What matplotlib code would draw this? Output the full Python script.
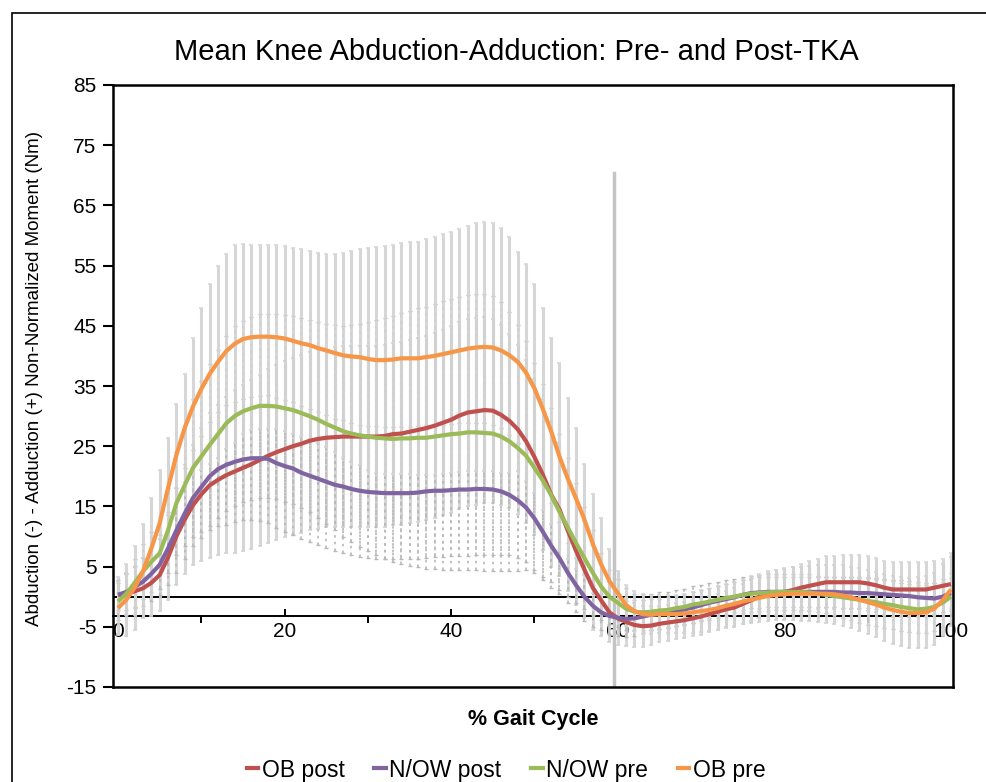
#!/usr/bin/env python3
"""Mean knee abduction-adduction moment, pre- and post-TKA (Excel-style chart)."""
import matplotlib
matplotlib.use("Agg")
import matplotlib.pyplot as plt
from matplotlib.patches import Rectangle
from matplotlib.lines import Line2D

plt.rcParams["font.family"] = ["Liberation Sans", "DejaVu Sans"]
plt.rcParams["axes.unicode_minus"] = False

# ── data ─────────────────────────────────────────────────────────────────────
GAIT = list(range(0, 101))          # % gait cycle
TOE_OFF = 59.5
TOE_OFF_TOP = 70.4

OB_POST = [
    0.3, 0.5, 0.9, 1.4, 2.3, 3.6, 6.5, 10.0, 12.8, 15.2,
    17.0, 18.5, 19.4, 20.2, 20.8, 21.4, 22.0, 22.7, 23.4, 24.0,
    24.5, 25.0, 25.4, 25.9, 26.2, 26.4, 26.5, 26.6, 26.6, 26.6,
    26.6, 26.6, 26.7, 27.0, 27.1, 27.4, 27.7, 28.0, 28.4, 28.9,
    29.4, 30.1, 30.6, 30.8, 31.0, 30.9, 30.2, 29.2, 27.8, 25.8,
    23.2, 20.3, 17.0, 14.5, 11.0, 7.6, 4.5, 1.5, -0.6, -2.6,
    -3.6, -4.2, -4.7, -4.9, -4.8, -4.5, -4.3, -4.1, -3.9, -3.6,
    -3.3, -2.9, -2.5, -2.1, -1.8, -1.2, -0.6, 0.0, 0.4, 0.7,
    0.8, 1.1, 1.5, 1.8, 2.1, 2.4, 2.4, 2.4, 2.4, 2.4,
    2.2, 1.9, 1.5, 1.2, 1.2, 1.2, 1.2, 1.2, 1.5, 1.8,
    2.1,
]
NOW_POST = [
    0.3, 0.8, 1.6, 2.5, 3.8, 5.3, 8.0, 11.0, 13.8, 16.4,
    18.2, 20.0, 21.2, 21.9, 22.4, 22.8, 23.0, 23.0, 22.9, 22.2,
    21.7, 21.3, 20.6, 20.1, 19.6, 19.1, 18.6, 18.3, 17.9, 17.6,
    17.4, 17.3, 17.2, 17.2, 17.2, 17.2, 17.3, 17.5, 17.6, 17.6,
    17.7, 17.8, 17.8, 17.9, 17.9, 17.8, 17.5, 16.9, 16.0, 14.8,
    13.0, 10.8, 8.5, 6.4, 4.0, 1.9, 0.0, -1.5, -2.6, -3.2,
    -3.5, -3.7, -3.6, -3.3, -3.0, -2.8, -2.6, -2.4, -2.1, -1.8,
    -1.4, -1.0, -0.7, -0.4, -0.1, 0.3, 0.6, 0.7, 0.8, 0.8,
    0.8, 0.8, 0.8, 0.8, 0.8, 0.8, 0.8, 0.7, 0.7, 0.6,
    0.6, 0.5, 0.4, 0.3, 0.2, 0.1, -0.1, -0.2, -0.3, 0.0,
    0.6,
]
NOW_PRE = [
    -0.8, 0.5, 2.3, 4.2, 5.8, 7.2, 11.0, 15.5, 18.5, 21.4,
    23.3, 25.2, 27.0, 28.8, 30.0, 30.8, 31.3, 31.7, 31.7, 31.6,
    31.3, 31.0, 30.5, 30.0, 29.4, 28.7, 28.1, 27.5, 27.1, 26.8,
    26.6, 26.4, 26.3, 26.2, 26.3, 26.3, 26.4, 26.4, 26.6, 26.8,
    27.0, 27.1, 27.3, 27.3, 27.2, 27.1, 26.6, 25.8, 24.7, 23.4,
    21.4, 19.3, 16.9, 14.1, 11.5, 8.9, 6.4, 4.0, 1.7, 0.0,
    -1.0, -2.0, -2.5, -2.6, -2.5, -2.3, -2.2, -1.9, -1.7, -1.3,
    -1.1, -0.8, -0.5, -0.2, 0.0, 0.3, 0.5, 0.6, 0.7, 0.8,
    0.8, 0.8, 0.8, 0.7, 0.5, 0.3, 0.1, -0.1, -0.3, -0.5,
    -0.7, -0.9, -1.2, -1.4, -1.7, -1.9, -2.1, -2.0, -1.7, -1.0,
    0.0,
]
OB_PRE = [
    -1.9, -0.5, 1.5, 4.2, 8.0, 12.2, 18.0, 23.5, 28.0, 31.6,
    34.5, 37.0, 39.0, 40.8, 42.0, 42.8, 43.1, 43.2, 43.2, 43.1,
    42.9, 42.5, 42.1, 41.8, 41.3, 40.9, 40.5, 40.1, 39.9, 39.8,
    39.5, 39.3, 39.3, 39.4, 39.6, 39.6, 39.6, 39.8, 40.0, 40.3,
    40.6, 40.9, 41.2, 41.4, 41.5, 41.4, 40.9, 40.1, 39.0, 37.2,
    34.6, 31.2, 27.5, 23.3, 19.6, 16.3, 12.8, 8.8, 5.4, 2.6,
    0.6, -1.4, -2.4, -2.9, -3.0, -2.9, -2.9, -2.9, -2.8, -2.6,
    -2.4, -2.2, -1.9, -1.5, -1.2, -0.8, -0.5, -0.2, 0.1, 0.3,
    0.4, 0.5, 0.5, 0.5, 0.5, 0.5, 0.4, 0.2, -0.1, -0.5,
    -0.9, -1.3, -1.8, -2.2, -2.5, -2.7, -2.7, -2.6, -2.0, -0.6,
    1.2,
]

# standard deviations (error bars)
OB_PRE_SD = [
    4.5, 6.0, 7.0, 7.8, 8.4, 8.8, 8.3, 8.5, 9.0, 11.4,
    13.5, 15.0, 16.0, 16.2, 16.5, 15.8, 15.4, 15.3, 15.3, 15.3,
    15.4, 15.5, 15.6, 15.6, 15.8, 16.1, 16.5, 17.0, 17.5, 18.0,
    18.5, 18.8, 19.0, 19.1, 19.2, 19.3, 19.4, 19.6, 19.8, 20.0,
    20.0, 20.2, 20.4, 20.6, 20.7, 20.6, 20.3, 19.6, 18.2, 18.0,
    17.4, 16.8, 15.5, 15.5, 13.4, 11.7, 9.2, 8.2, 7.6, 5.4,
    3.6, 3.4, 3.3, 3.3, 3.2, 3.2, 3.2, 3.2, 3.3, 3.4,
    3.5, 3.5, 3.6, 3.6, 3.7, 3.8, 3.9, 4.0, 4.1, 4.2,
    4.3, 4.4, 4.5, 4.6, 4.7, 4.8, 4.9, 5.0, 5.1, 5.2,
    5.3, 5.4, 5.5, 5.6, 5.7, 5.8, 5.9, 6.0, 6.0, 6.0,
    6.0,
]
OB_POST_SD = [
    3.0, 3.5, 4.0, 5.0, 5.5, 6.0, 7.0, 8.0, 9.0, 10.0,
    11.0, 12.0, 12.5, 13.0, 13.5, 13.8, 14.0, 14.2, 14.4, 14.5,
    14.6, 14.7, 14.8, 14.8, 14.9, 14.9, 15.0, 15.0, 15.0, 15.0,
    15.0, 15.0, 15.1, 15.1, 15.2, 15.2, 15.3, 15.3, 15.4, 15.4,
    15.5, 15.5, 15.5, 15.5, 15.5, 15.3, 15.0, 14.5, 14.0, 13.5,
    13.0, 12.5, 12.0, 11.0, 10.0, 9.0, 8.0, 7.0, 6.0, 5.0,
    4.5, 4.0, 3.6, 3.4, 3.2, 3.0, 3.0, 3.0, 3.0, 3.0,
    3.0, 3.0, 3.0, 3.1, 3.2, 3.3, 3.4, 3.5, 3.6, 3.7,
    3.8, 3.9, 4.0, 4.1, 4.2, 4.3, 4.4, 4.5, 4.5, 4.5,
    4.5, 4.5, 4.5, 4.5, 4.5, 4.5, 4.5, 4.5, 4.5, 4.5,
    4.5,
]
NOW_PRE_SD = [
    3.0, 3.5, 4.0, 4.5, 5.0, 6.0, 7.0, 8.5, 10.0, 11.5,
    12.5, 13.5, 14.0, 14.5, 15.0, 15.0, 15.2, 15.3, 15.3, 15.4,
    15.5, 15.6, 15.8, 16.0, 16.3, 16.6, 17.0, 17.5, 18.0, 18.5,
    19.0, 19.5, 20.0, 20.4, 20.8, 21.2, 21.5, 21.8, 22.0, 22.3,
    22.5, 22.7, 22.8, 22.9, 23.0, 22.8, 22.3, 21.5, 20.5, 19.0,
    17.5, 16.0, 14.5, 13.0, 11.5, 10.0, 8.5, 7.0, 5.5, 4.5,
    4.0, 3.5, 3.0, 3.0, 3.0, 3.0, 3.0, 3.0, 3.0, 3.0,
    3.0, 3.0, 3.0, 3.0, 3.0, 3.0, 3.0, 3.0, 3.0, 3.0,
    3.0, 3.0, 3.0, 3.0, 3.0, 3.0, 3.2, 3.4, 3.6, 3.8,
    4.0, 4.0, 4.0, 4.0, 4.0, 4.0, 4.0, 4.0, 4.0, 4.0,
    4.0,
]
NOW_POST_SD = [
    2.5, 3.0, 3.5, 4.0, 4.5, 5.0, 6.0, 7.0, 7.5, 8.0,
    8.5, 9.0, 9.5, 10.0, 10.0, 10.0, 10.2, 10.4, 10.6, 10.8,
    11.0, 11.0, 11.0, 11.0, 11.0, 11.0, 11.0, 11.0, 11.0, 11.0,
    11.0, 11.0, 11.0, 11.0, 11.0, 11.0, 11.0, 11.0, 11.0, 11.0,
    11.0, 11.0, 11.0, 11.0, 11.0, 10.8, 10.5, 10.0, 9.5, 9.0,
    8.5, 8.0, 7.0, 6.0, 5.0, 4.5, 4.0, 3.5, 3.0, 3.0,
    3.0, 3.0, 3.0, 2.8, 2.6, 2.5, 2.5, 2.5, 2.5, 2.5,
    2.5, 2.5, 2.5, 2.5, 2.5, 2.5, 2.5, 2.5, 2.5, 2.5,
    2.5, 2.5, 2.5, 2.5, 2.5, 2.5, 2.5, 2.5, 2.5, 2.5,
    2.5, 2.5, 2.5, 2.5, 2.5, 2.5, 2.5, 2.5, 2.5, 2.5,
    2.5,
]

# (label, mean, sd, colour, error-bar style)
SERIES = [
    ("OB post",   OB_POST,  OB_POST_SD,  "#C0504D", "-"),
    ("N/OW post", NOW_POST, NOW_POST_SD, "#8064A2", ":"),
    ("N/OW pre",  NOW_PRE,  NOW_PRE_SD,  "#9BBB59", ":"),
    ("OB pre",    OB_PRE,   OB_PRE_SD,   "#F79646", "-"),
]

Y_TICKS = list(range(-15, 86, 10))
X_TICKS = [0, 20, 40, 60, 80, 100]
X_MINOR = [10, 30, 50, 70, 90]

# ── figure ───────────────────────────────────────────────────────────────────
fig = plt.figure(figsize=(9.87, 7.82), dpi=100)
fig.patches.append(Rectangle((12 / 987, -0.05), 1.1, 1 - 13 / 782 + 0.05,
                             transform=fig.transFigure, fill=False,
                             edgecolor="black", linewidth=1.2))

ax = fig.add_axes([113 / 987, 1 - 687 / 782, 840 / 987, 602 / 782])
ax.set_xlim(-0.6, 100.25)
ax.set_ylim(-15, 85)

# error bars first, lines on top
for label, mean, sd, colour, style in SERIES:
    if style == "-":
        eb = ax.errorbar(GAIT, mean, yerr=sd, fmt="none", ecolor="#d2d2d2",
                         elinewidth=2.2, capsize=1.5, capthick=1.2, zorder=3,
                         alpha=0.9)
    else:
        eb = ax.errorbar(GAIT, mean, yerr=sd, fmt="none", ecolor="#b8b8b8",
                         elinewidth=1.2, capsize=1.5, capthick=1.0, zorder=3)
        eb[2][0].set_linestyle((0, (1.5, 2.5)))

ax.axhline(0, color="black", linewidth=1.4, zorder=2)
ax.plot([TOE_OFF, TOE_OFF], [-15, TOE_OFF_TOP], color="#c4c4c4",
        linewidth=2.5, zorder=2.5)

for label, mean, sd, colour, style in SERIES:
    ax.plot(GAIT, mean, color=colour, linewidth=3.0, label=label, zorder=5,
            solid_capstyle="butt")

# frame
for sp in ax.spines.values():
    sp.set_linewidth(1.8)
    sp.set_zorder(6)
ax.set_yticks(Y_TICKS)
ax.tick_params(axis="y", direction="out", length=7, width=1.5, labelsize=15,
               pad=5)
ax.set_xticks([])

# x axis crosses the y axis a little below zero
xax = ax.secondary_xaxis((-3.2 + 15) / 100)
xax.set_xticks(X_TICKS)
xax.set_xticks(X_MINOR, minor=True)
xax.spines["bottom"].set_linewidth(1.4)
xax.tick_params(which="major", direction="in", length=5, width=1.4,
                labelsize=15, pad=4)
xax.tick_params(which="minor", direction="out", length=5, width=1.4)
xax.set_zorder(2)

ax.set_title("Mean Knee Abduction-Adduction: Pre- and Post-TKA",
             fontsize=21, pad=18, x=0.48)
ax.set_xlabel("% Gait Cycle", fontsize=15.5, fontweight="bold", labelpad=16)
fig.text(35 / 987, 1 - 378 / 782,
         "Abduction (-) - Adduction (+) Non-Normalized Moment (Nm)",
         rotation=90, ha="center", va="center", fontsize=13.5)

handles = [Line2D([], [], color=c, linewidth=3) for _, _, _, c, _ in SERIES]
fig.legend(handles, [s[0] for s in SERIES], loc="center",
           bbox_to_anchor=(506 / 987, 1 - 770 / 782), ncol=4, frameon=False,
           fontsize=16.5, handlelength=0.5, handletextpad=0.15,
           columnspacing=1.3)

fig.savefig("out.png", dpi=100, facecolor="white")
